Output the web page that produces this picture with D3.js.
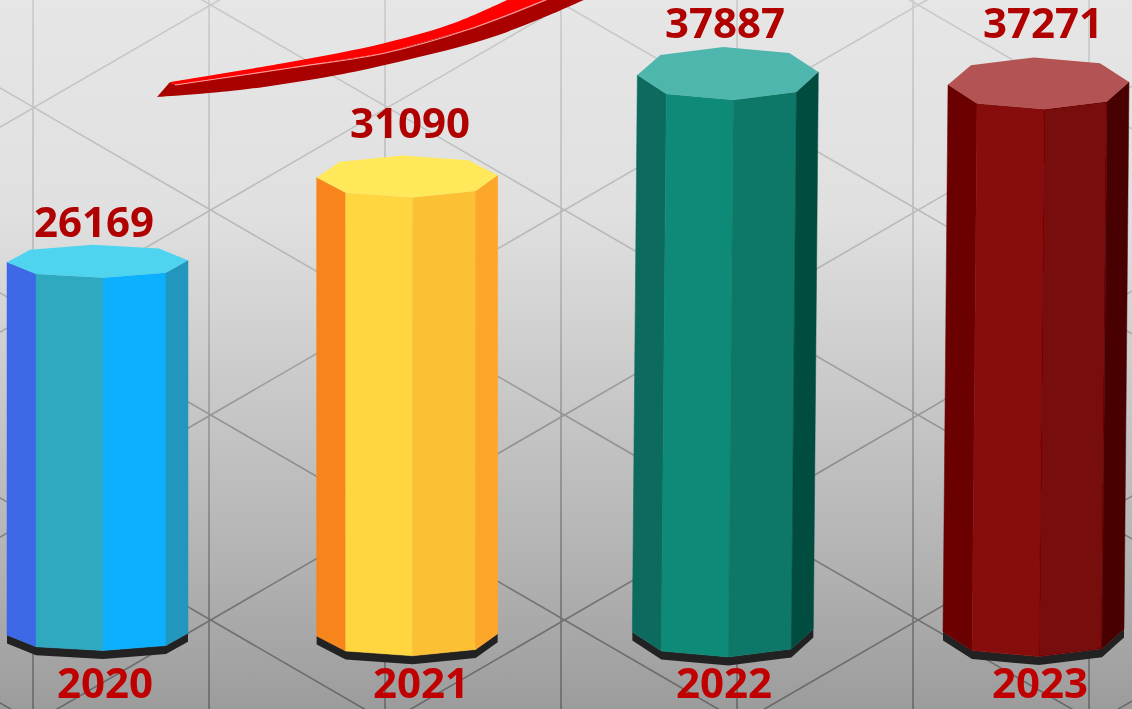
<!DOCTYPE html>
<html>
<head>
<meta charset="utf-8">
<script src="https://cdn.jsdelivr.net/npm/d3@7"></script>
<style>
    html, body { margin: 0; padding: 0; background: #ccc; overflow: hidden; }
    svg { display: block; }
    text { font-family: "Open Sans", Lato, sans-serif; font-weight: 700; text-anchor: middle; }
</style>
</head>
<body>
<svg id="chart"></svg>
<script>
const years = ["2020", "2021", "2022", "2023"];
const values = [26169, 31090, 37887, 37271];

// left, front-left, front-right, right, lid
const sideColors = [
    ["#3c67e6", "#2fa9c0", "#0bb0fe", "#2496bd", "#50d4ef"],
    ["#f8841c", "#ffd640", "#fcc035", "#fca72c", "#ffe85a"],
    ["#0a6b5e", "#0b8a78", "#0a7868", "#034d40", "#50b6ae"],
    ["#6b0505", "#870b0b", "#770707", "#4a0303", "#b35252"],
];

const width = 1132,
    height = 709;

// the bars are hand drawn in perspective, so each one needs a small correction
const xNudge = [0, -4, 3, 0];
const lean = [0, 0, -5, -5];
const topNudge = [0, -6, 0, 0];
const baseNudge = [1, 2, -2, -2];
const valueLift = [25, 40, 37, 47];
const valueX = [94, 410, 725, 1043];
const yearX = [105, 421, 724, 1040];

// octagon outline seen from above, relative to its left corner
const octagon = [
    [0, 0], [23, -20], [86, -28], [152, -22],
    [181, -3], [159, 17], [96, 25], [29, 19],
];
const baseThickness = 8.5;

const svg = d3.select("#chart").attr("width", width).attr("height", height);
const defs = svg.append("defs");

function verticalGradient(id, stops) {
    const grad = defs
        .append("linearGradient")
        .attr("id", id)
        .attr("gradientUnits", "userSpaceOnUse")
        .attr("x1", 0)
        .attr("y1", 0)
        .attr("x2", 0)
        .attr("y2", height);
    stops.forEach(function(s) {
        grad.append("stop").attr("offset", s[0]).attr("stop-color", s[1]);
    });
}
verticalGradient("bg", [[0, "#e6e6e6"], [0.3, "#e0e0e0"], [0.55, "#c9c9c9"], [0.8, "#b2b2b2"], [1, "#9c9c9c"]]);
verticalGradient("lattice", [[0, "#cacaca"], [0.35, "#b8b8b8"], [0.6, "#949494"], [0.88, "#707070"], [1, "#686868"]]);

const blur = defs.append("filter").attr("id", "soft");
blur.append("feGaussianBlur").attr("stdDeviation", 0.7);

svg.append("rect").attr("width", width).attr("height", height).attr("fill", "url(#bg)");

// triangle lattice behind the bars
const lattice = svg
    .append("g")
    .attr("stroke", "url(#lattice)")
    .attr("stroke-width", 1.6)
    .attr("fill", "none")
    .attr("filter", "url(#soft)");
const stepX = 176,
    stepY = 205,
    rise = 102;
lattice
    .selectAll(".v")
    .data(d3.range(33, width, stepX))
    .enter()
    .append("line")
    .attr("class", "v")
    .attr("x1", function(d) { return d; })
    .attr("x2", function(d) { return d; })
    .attr("y1", 0)
    .attr("y2", height);
lattice
    .selectAll(".down")
    .data(d3.range(-8, 8))
    .enter()
    .append("line")
    .attr("class", "down")
    .attr("x1", -143)
    .attr("x2", 1265)
    .attr("y1", function(k) { return 5 + k * stepY; })
    .attr("y2", function(k) { return 5 + k * stepY + 8 * rise; });
lattice
    .selectAll(".up")
    .data(d3.range(-2, 14))
    .enter()
    .append("line")
    .attr("class", "up")
    .attr("x1", -143)
    .attr("x2", 1265)
    .attr("y1", function(k) { return 5 + k * stepY; })
    .attr("y2", function(k) { return 5 + k * stepY - 8 * rise; });

// swoosh
const swooshTop = [[170, 82], [290, 62], [385, 43], [457, 22], [520, -6]];
const swooshMid = [[175, 85], [290, 68], [385, 53], [473, 28], [560, -6]];
const swooshLow = [[157, 97], [240, 90], [327, 77], [385, 65], [480, 41], [540, 19], [597, -6]];
const curve = d3.line().curve(d3.curveCatmullRom);
const swoosh = svg.append("g").attr("filter", "url(#soft)");
swoosh
    .append("path")
    .attr("fill", "#a90000")
    .attr("d", curve(swooshLow) + "L" + swooshMid.slice().reverse().join("L") + "L170,82Z");
swoosh
    .append("path")
    .attr("fill", "#ff0000")
    .attr("d", curve(swooshTop) + "L" + swooshMid.slice().reverse().join("L") + "Z");
swoosh
    .append("path")
    .attr("fill", "none")
    .attr("stroke", "#ff9a9a")
    .attr("stroke-width", 1.2)
    .attr("d", curve(swooshMid));

const x = d3.scalePoint().domain(years).range([7, 948]);
const y = d3.scaleLinear().domain([2900, 37887]).range([634, 75]);
// taller bars are seen more from above
const depth = d3.scaleLinear().domain([262, 75]).range([0.62, 1]).clamp(true);

const bars = svg
    .selectAll(".bar")
    .data(years)
    .enter()
    .append("g")
    .attr("class", "bar")
    .attr("filter", "url(#soft)");

bars.each(function(year, i) {
    const bar = d3.select(this);
    const x0 = x(year) + xNudge[i];
    const yTop = y(values[i]) + topNudge[i];
    const yBottom = y.range()[0] + baseNudge[i];
    const f = depth(yTop);
    const top = octagon.map(function(p) {
        return [x0 + p[0], yTop + p[1] * f];
    });
    const bottom = octagon.map(function(p) {
        return [x0 + lean[i] + p[0], yBottom + p[1] * f];
    });

    // black plinth under the front faces
    const front = [0, 7, 6, 5, 4].map(function(k) { return bottom[k]; });
    const under = front.slice().reverse().map(function(p) {
        return [p[0], p[1] + baseThickness];
    });
    bar.append("polygon").attr("fill", "#222222").attr("points", front.concat(under).join(" "));

    const faces = [[0, 7], [7, 6], [6, 5], [5, 4]];
    bar
        .selectAll(".face")
        .data(faces)
        .enter()
        .append("polygon")
        .attr("class", "face")
        .attr("fill", function(d, k) { return sideColors[i][k]; })
        .attr("stroke", function(d, k) { return sideColors[i][k]; })
        .attr("stroke-width", 0.5)
        .attr("points", function(d) {
            return [top[d[0]], top[d[1]], bottom[d[1]], bottom[d[0]]].join(" ");
        });

    bar.append("polygon").attr("fill", sideColors[i][4]).attr("points", top.join(" "));

    bar
        .append("text")
        .attr("x", valueX[i])
        .attr("y", yTop - valueLift[i])
        .attr("font-size", 42)
        .attr("fill", "#b00000")
        .text(values[i]);

    bar
        .append("text")
        .attr("x", yearX[i])
        .attr("y", 698)
        .attr("font-size", 42)
        .attr("fill", "#c00000")
        .text(year);
});
</script>
</body>
</html>
